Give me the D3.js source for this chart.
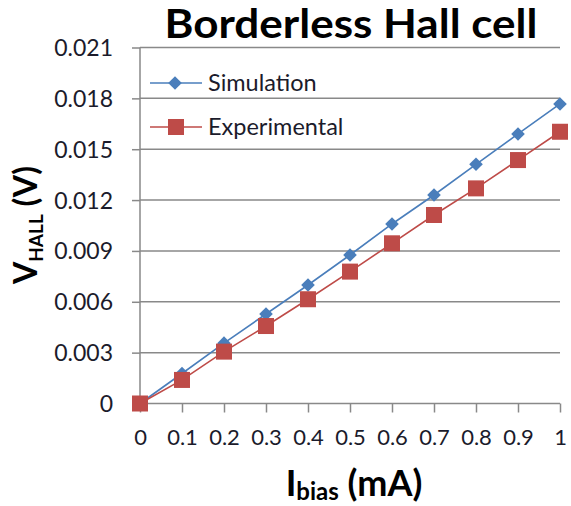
<!DOCTYPE html>
<html><head><meta charset="utf-8">
<script src="https://cdn.jsdelivr.net/npm/d3@7"></script>
<style>body{margin:0;background:#fff}svg{display:block}</style>
</head><body>
<svg id="c" width="571" height="506"></svg>
<script>
const xValues = [0, 0.1, 0.2, 0.3, 0.4, 0.5, 0.6, 0.7, 0.8, 0.9, 1];
const simulation = [0, 0.00177, 0.00356, 0.00528, 0.00699, 0.00876, 0.01059, 0.0123, 0.01411, 0.0159, 0.01767];
const experimental = [0, 0.00139, 0.00306, 0.00457, 0.00615, 0.00778, 0.00945, 0.01112, 0.01269, 0.01436, 0.01603];
const yTicks = [0, 0.003, 0.006, 0.009, 0.012, 0.015, 0.018, 0.021];
const xTicks = [0, 0.1, 0.2, 0.3, 0.4, 0.5, 0.6, 0.7, 0.8, 0.9, 1];
const seriesNames = ["Simulation", "Experimental"];
const colors = ["#4A7EBB", "#BE4B48"];

const svg = d3.select("#c");
const font = "Lato, 'Open Sans', sans-serif";
const x = d3.scaleLinear().domain([0, 1]).range([140, 560]);
const y = d3.scaleLinear().domain([0, 0.021]).range([403.5, 47.5]);
const grey = "#898989";
const txt = "#1b1b2b";

// gridlines
svg.append("g").selectAll("line").data(yTicks.filter(d => d > 0)).join("line")
  .attr("x1", 140).attr("x2", 560).attr("y1", d => y(d)).attr("y2", d => y(d))
  .attr("stroke", grey).attr("stroke-width", 1.5);

// y axis
const yAxis = svg.append("g").attr("transform", "translate(140,0)")
  .call(d3.axisLeft(y).tickValues(yTicks).tickSize(8).tickPadding(19)
    .tickFormat(d => d === 0 ? "0" : d3.format(".3f")(d)));
yAxis.select(".domain").attr("stroke", grey).attr("stroke-width", 1.5).attr("d", "M0," + y(0.021) + "V" + (y(0)+0.5));
yAxis.selectAll(".tick line").attr("stroke", grey).attr("stroke-width", 1.5);
yAxis.selectAll("text").attr("font-family", font).attr("font-size", 23).attr("fill", txt).attr("dy", "0.35em");

// x axis
const xAxis = svg.append("g").attr("transform", "translate(0," + y(0) + ")")
  .call(d3.axisBottom(x).tickValues(xTicks).tickSize(9).tickPadding(17)
    .tickFormat(d => d === 0 ? "0" : d === 1 ? "1" : d3.format(".1f")(d)));
xAxis.select(".domain").attr("stroke", grey).attr("stroke-width", 1.5).attr("d", "M140,0H560");
xAxis.selectAll(".tick line").attr("stroke", grey).attr("stroke-width", 1.5);
xAxis.selectAll("text").attr("font-family", font).attr("font-size", 22).attr("fill", txt);

// lines
const data = [simulation, experimental];
const line = d3.line().x((d, i) => x(xValues[i])).y(d => y(d));
data.forEach((s, k) => {
  svg.append("path").datum(s).attr("d", line).attr("fill", "none")
    .attr("stroke", colors[k]).attr("stroke-width", 1.6);
});
// markers
const diamond = d3.symbol().type(d3.symbolDiamond2).size(118);
svg.append("g").selectAll("path").data(simulation).join("path")
  .attr("d", diamond).attr("transform", (d, i) => `translate(${x(xValues[i])},${y(d)})`)
  .attr("fill", colors[0]);
svg.append("g").selectAll("rect").data(experimental).join("rect")
  .attr("x", (d, i) => x(xValues[i]) - 8).attr("y", d => y(d) - 8)
  .attr("width", 16).attr("height", 16).attr("fill", colors[1]);

// legend
const leg = svg.append("g");
[83, 127].forEach((ly, k) => {
  leg.append("line").attr("x1", 150).attr("x2", 202).attr("y1", ly).attr("y2", ly)
    .attr("stroke", colors[k]).attr("stroke-width", 1.6);
  if (k === 0) {
    leg.append("path").attr("d", diamond).attr("transform", `translate(175,${ly})`).attr("fill", colors[0]);
  } else {
    leg.append("rect").attr("x", 168).attr("y", ly - 8).attr("width", 16).attr("height", 16).attr("fill", colors[1]);
  }
  leg.append("text").attr("x", 208).attr("y", ly).attr("dy", "0.35em")
    .attr("font-family", font).attr("font-size", 23.5).attr("fill", txt).text(seriesNames[k]);
});

// title
svg.append("text").attr("x", 351).attr("y", 38).attr("text-anchor", "middle")
  .attr("font-family", font).attr("font-weight", "bold").attr("font-size", 40)
  .attr("textLength", 373).attr("lengthAdjust", "spacingAndGlyphs")
  .attr("fill", "#000").text("Borderless Hall cell");

// x title
const xt = svg.append("text").attr("x", 354).attr("y", 496).attr("text-anchor", "middle")
  .attr("font-family", font).attr("font-weight", "bold").attr("font-size", 36).attr("fill", "#000");
xt.append("tspan").text("I");
xt.append("tspan").attr("font-size", 24).attr("dy", 4).text("bias");
xt.append("tspan").attr("dy", -4).text(" (mA)");

// y title
const yt = svg.append("text").attr("transform", "translate(37,225) rotate(-90)").attr("text-anchor", "middle")
  .attr("font-family", font).attr("font-weight", "bold").attr("font-size", 32).attr("fill", "#000");
yt.append("tspan").text("V");
yt.append("tspan").attr("font-size", 19).attr("dy", 6).text("HALL");
yt.append("tspan").attr("dy", -6).text(" (V)");
</script>
</body></html>
